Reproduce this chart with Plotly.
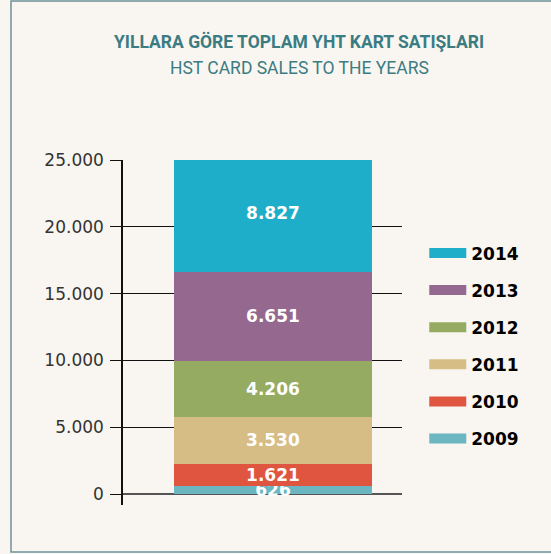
import plotly.graph_objects as go

# ---- data ----
years = ["2009", "2010", "2011", "2012", "2013", "2014"]
sales = [626, 1621, 3530, 4206, 6651, 8827]
colors = ["#6bb6c1", "#e0553f", "#d6bc85", "#95ab62", "#956890", "#1eaec9"]
category = ["Toplam"]
y_ticks = [0, 5000, 10000, 15000, 20000, 25000]

title_tr = "YILLARA GÖRE TOPLAM YHT KART SATIŞLARI"
title_en = "HST CARD SALES TO THE YEARS"

BG = "#f9f6f1"
TEAL = "#3b7c83"

fig = go.Figure()

for yr, val, col in zip(years, sales, colors):
    fig.add_trace(go.Bar(
        x=category, y=[val], name=yr, marker=dict(color=col, line=dict(width=0)),
        texttemplate="%{y:,}", textposition="inside", insidetextanchor="middle",
        textangle=0,
        textfont=dict(family="DejaVu Sans", size=17, color="white", weight="bold"),
        showlegend=False, width=0.7, hoverinfo="skip",
    ))

# legend entries drawn as thick line swatches (newest year on top)
for yr, col in reversed(list(zip(years, colors))):
    fig.add_trace(go.Scatter(
        x=[None], y=[None], mode="lines", name=yr, legendgroup=yr,
        line=dict(color=col, width=16), showlegend=True,
    ))

# frame (left, top, bottom edges) in paper units
fx0 = (11 - 123) / 279
fx1 = (551 - 123) / 279
fy0 = (505 - 552) / 345
fy1 = (505 - 1) / 345
frame_path = f"M {fx1},{fy1} L {fx0},{fy1} L {fx0},{fy0} L {fx1},{fy0}"

fig.update_layout(
    width=551, height=554,
    paper_bgcolor=BG, plot_bgcolor=BG,
    barmode="stack",
    separators=",.",
    uniformtext=dict(minsize=17, mode="show"),
    margin=dict(l=123, r=149, t=160, b=49),
    xaxis=dict(visible=False, range=[-0.53, 0.456]),
    yaxis=dict(
        range=[-820, 25000], tickvals=y_ticks, tickformat=",",
        showgrid=True, gridcolor="#111", gridwidth=1,
        zeroline=True, zerolinecolor="#555", zerolinewidth=2,
        showline=True, linecolor="#111", linewidth=1.5,
        ticks="outside", ticklen=11, tickcolor="#111", tickwidth=1,
        ticklabelstandoff=3,
        tickfont=dict(family="DejaVu Sans", size=17, color="#333"),
    ),
    legend=dict(
        xref="container", yref="container", x=0.77, y=0.3755,
        xanchor="left", yanchor="middle",
        traceorder="grouped", tracegroupgap=12,
        bgcolor="rgba(0,0,0,0)",
        font=dict(family="DejaVu Sans", size=17, color="#000", weight="bold"),
        itemwidth=37,
    ),
    annotations=[
        dict(text=title_tr, xref="paper", yref="paper", x=(299 - 123) / 279,
             y=(505 - 42) / 345, showarrow=False, xanchor="center", yanchor="middle",
             font=dict(family="Roboto", size=17.5, color=TEAL, weight="bold")),
        dict(text=title_en, xref="paper", yref="paper", x=(299 - 123) / 279,
             y=(505 - 68) / 345, showarrow=False, xanchor="center", yanchor="middle",
             font=dict(family="Roboto", size=17.5, color=TEAL)),
    ],
    shapes=[
        dict(type="path", xref="paper", yref="paper", path=frame_path,
             line=dict(color="#6e9196", width=1.5), layer="below"),
    ],
)

fig.write_html(
    "out.html",
    config={"displayModeBar": False},
    post_script=("document.body.style.margin='0';"
                 "document.body.style.overflow='hidden';"
                 "document.documentElement.style.overflow='hidden';"
                 "document.body.style.background='%s';" % BG),
)
